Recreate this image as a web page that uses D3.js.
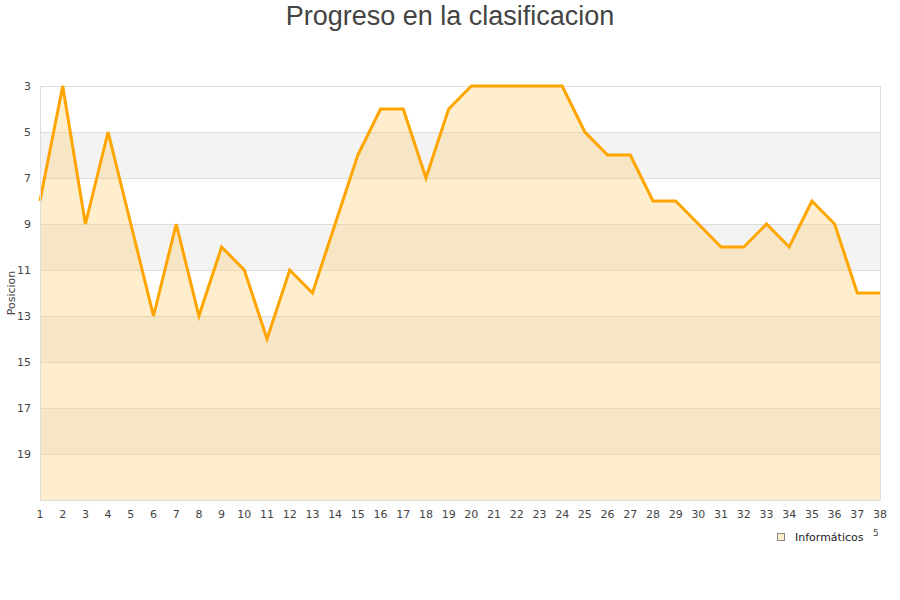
<!DOCTYPE html>
<html><head><meta charset="utf-8">
<script src="https://cdn.jsdelivr.net/npm/d3@7/dist/d3.min.js"></script>
<style>body{margin:0;background:#fff;}svg{display:block;}</style>
</head><body>
<svg id="c" width="900" height="600"></svg>
<script>
const title = "Progreso en la clasificacion";
const yLabel = "Posicion";
const seriesName = "Informáticos";
const jornadas = d3.range(1, 39);
const posiciones = [8,3,9,5,9,13,9,13,10,11,14,11,12,9,6,4,4,7,4,3,3,3,3,3,5,6,6,8,8,9,10,10,9,10,8,9,12,12];
const yTicks = [3,5,7,9,11,13,15,17,19];
const bands = [[5,7],[9,11],[13,15],[17,19]];

const svg = d3.select("#c");
const m = {l:40, r:880, t:86, b:500};
const x = d3.scaleLinear().domain([1,38]).range([m.l, m.r]);
const y = d3.scaleLinear().domain([3,21]).range([m.t, m.b]);

svg.append("text").attr("x",450).attr("y",25).attr("text-anchor","middle")
  .attr("font-family","Liberation Sans, Arial, sans-serif").attr("font-size",27).attr("fill","#444").text(title);

// bands
svg.selectAll("rect.band").data(bands).enter().append("rect")
  .attr("x",m.l).attr("width",m.r-m.l).attr("y",d=>y(d[0])).attr("height",d=>y(d[1])-y(d[0]))
  .attr("fill","#f3f3f3");

// grid
svg.selectAll("line.grid").data(yTicks).enter().append("line")
  .attr("x1",m.l).attr("x2",m.r).attr("y1",d=>y(d)).attr("y2",d=>y(d))
  .attr("stroke","#dddddd").attr("stroke-width",1).attr("shape-rendering","crispEdges");

const data = jornadas.map((j,i)=>({j, p:posiciones[i]}));
svg.append("path").datum(data)
  .attr("d", d3.area().x(d=>x(d.j)).y0(m.b).y1(d=>y(d.p)))
  .attr("fill","#ffcc66").attr("fill-opacity",0.33);
svg.append("path").datum(data)
  .attr("d", d3.line().x(d=>x(d.j)).y(d=>y(d.p)))
  .attr("fill","none").attr("stroke","#ffa500").attr("stroke-width",3).attr("stroke-linejoin","miter");

// frame
svg.append("path").attr("d",`M${m.l+0.5},${m.t}V${m.b+0.5}H${m.r+0.5}V${m.t}`)
  .attr("fill","none").attr("stroke","#dddddd");

// y tick labels
svg.selectAll("text.yt").data(yTicks).enter().append("text")
  .attr("x",31).attr("y",d=>y(d)+4).attr("text-anchor","end")
  .attr("font-family","DejaVu Sans, sans-serif").attr("font-size",11).attr("fill","#444").text(d=>d);
// x tick labels
svg.selectAll("text.xt").data(jornadas).enter().append("text")
  .attr("x",d=>x(d)).attr("y",518).attr("text-anchor","middle")
  .attr("font-family","DejaVu Sans, sans-serif").attr("font-size",11).attr("fill","#444").text(d=>d);

svg.append("text").attr("transform","translate(15,293) rotate(-90)").attr("text-anchor","middle")
  .attr("font-family","DejaVu Sans, sans-serif").attr("font-size",11).attr("fill","#444").text(yLabel);

// legend
svg.append("rect").attr("x",777.5).attr("y",533.5).attr("width",7).attr("height",7)
  .attr("fill","#ffeecc").attr("stroke","#888");
svg.append("text").attr("x",795).attr("y",541)
  .attr("font-family","DejaVu Sans, sans-serif").attr("font-size",11).attr("fill","#222").text(seriesName);
svg.append("text").attr("x",873).attr("y",536)
  .attr("font-family","DejaVu Sans, sans-serif").attr("font-size",9).attr("fill","#444").text("5");
</script>
</body></html>
